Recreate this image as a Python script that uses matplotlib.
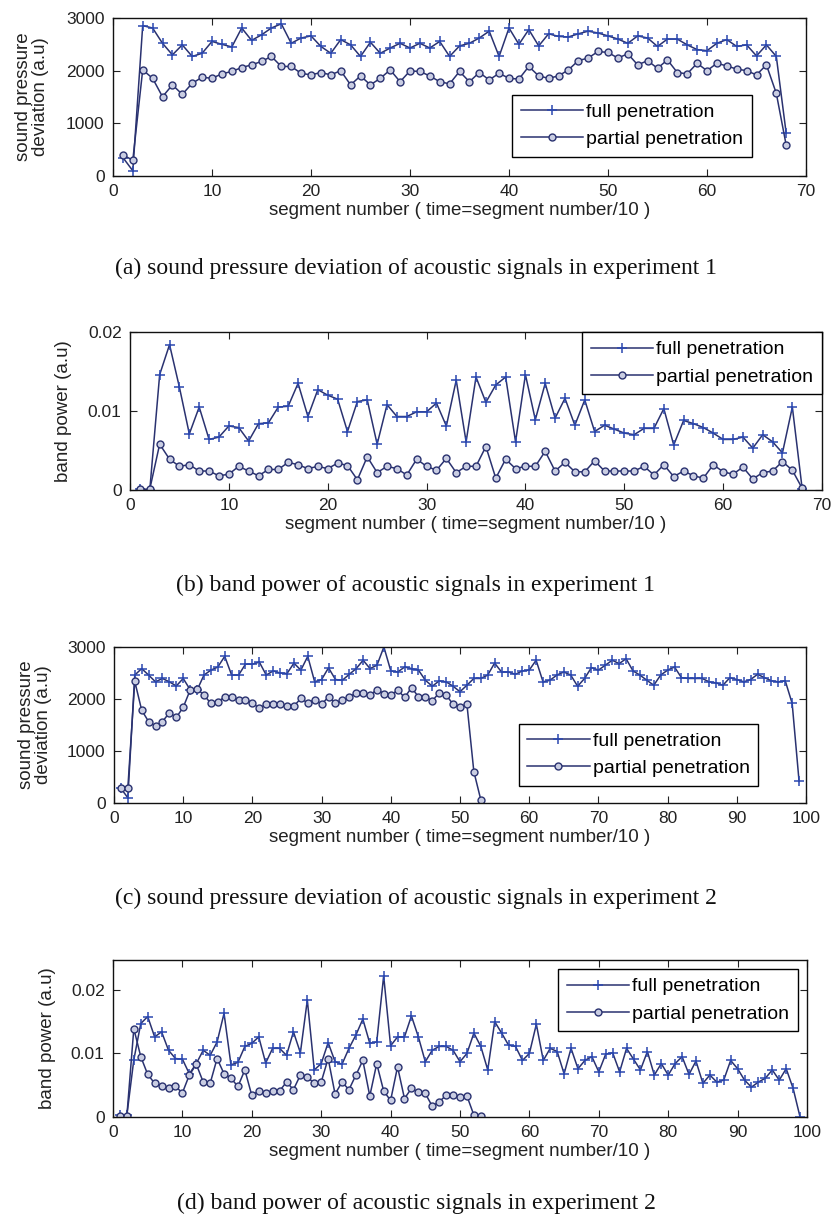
import numpy as np
import matplotlib
matplotlib.use("Agg")
import matplotlib.pyplot as plt
from matplotlib.ticker import FuncFormatter

plt.rcParams['font.family'] = ['Liberation Sans', 'DejaVu Sans']

# ---- data ----
# experiment 1, segments 1..68
full_a = [350, 100, 2855, 2810, 2520, 2300, 2490, 2270, 2330, 2555,
          2500, 2450, 2810, 2575, 2680, 2810, 2890, 2520, 2620, 2660,
          2460, 2330, 2590, 2490, 2270, 2540, 2330, 2430, 2520, 2430,
          2520, 2430, 2555, 2270, 2470, 2520, 2620, 2750, 2270, 2810,
          2500, 2780, 2470, 2700, 2650, 2640, 2700, 2750, 2715, 2660,
          2600, 2520, 2660, 2620, 2460, 2600, 2600, 2490, 2400, 2380,
          2520, 2590, 2460, 2490, 2280, 2490, 2270, 810]
partial_a = [400, 300, 2015, 1855, 1505, 1730, 1550, 1760, 1875, 1855,
             1940, 1985, 2060, 2110, 2175, 2270, 2080, 2080, 1950, 1920,
             1965, 1920, 2000, 1730, 1900, 1730, 1855, 2015, 1790, 1995,
             1985, 1900, 1790, 1750, 1985, 1790, 1965, 1825, 1950, 1855,
             1840, 2080, 1900, 1855, 1900, 2015, 2190, 2240, 2365, 2345,
             2240, 2320, 2110, 2190, 2045, 2205, 1965, 1940, 2140, 2000,
             2140, 2090, 2030, 2000, 1920, 2110, 1570, 585]

full_b = [0.0001, 0.0, 0.0146, 0.0184, 0.0130, 0.0071, 0.0105, 0.0064, 0.0067, 0.0081,
          0.0079, 0.0062, 0.0084, 0.0085, 0.0105, 0.0106, 0.0135, 0.0093, 0.0127, 0.0120,
          0.0115, 0.0074, 0.0112, 0.0114, 0.0058, 0.0108, 0.0093, 0.0093, 0.0099, 0.0099,
          0.0110, 0.0081, 0.0139, 0.0061, 0.0143, 0.0111, 0.0133, 0.0143, 0.0061, 0.0146,
          0.0089, 0.0135, 0.0091, 0.0116, 0.0082, 0.0114, 0.0074, 0.0082, 0.0077, 0.0072,
          0.0070, 0.0078, 0.0078, 0.0103, 0.0057, 0.0088, 0.0084, 0.0079, 0.0072, 0.0064,
          0.0064, 0.0067, 0.0053, 0.0070, 0.0061, 0.0047, 0.0105, 0.0001]
partial_b = [0.0001, 0.0001, 0.0058, 0.0039, 0.0030, 0.0032, 0.0024, 0.0024, 0.0018, 0.0020,
             0.0030, 0.0024, 0.0018, 0.0026, 0.0026, 0.0035, 0.0032, 0.0027, 0.0030, 0.0027,
             0.0034, 0.0031, 0.0013, 0.0042, 0.0022, 0.0030, 0.0027, 0.0019, 0.0039, 0.0030,
             0.0025, 0.0040, 0.0022, 0.0030, 0.0030, 0.0055, 0.0015, 0.0039, 0.0027, 0.0030,
             0.0030, 0.0049, 0.0024, 0.0035, 0.0023, 0.0023, 0.0037, 0.0024, 0.0024, 0.0024,
             0.0024, 0.0030, 0.0019, 0.0032, 0.0017, 0.0024, 0.0018, 0.0015, 0.0032, 0.0023,
             0.0020, 0.0029, 0.0014, 0.0022, 0.0024, 0.0036, 0.0025, 0.0002]

# experiment 2, full 1..99, partial 1..53
full_c = [280, 100, 2460, 2585, 2460, 2330, 2395, 2330, 2250, 2395,
          2180, 2170, 2460, 2555, 2615, 2820, 2460, 2460, 2670, 2670,
          2710, 2460, 2540, 2500, 2490, 2690, 2555, 2820, 2330, 2375,
          2600, 2375, 2360, 2475, 2585, 2745, 2585, 2650, 3000, 2540,
          2520, 2615, 2585, 2555, 2360, 2245, 2350, 2330, 2245, 2140,
          2265, 2395, 2395, 2460, 2690, 2520, 2520, 2475, 2540, 2555,
          2745, 2330, 2360, 2460, 2520, 2460, 2245, 2395, 2605, 2555,
          2650, 2745, 2680, 2775, 2540, 2460, 2360, 2265, 2460, 2555,
          2615, 2410, 2395, 2395, 2395, 2330, 2310, 2265, 2410, 2375,
          2330, 2375, 2475, 2410, 2350, 2330, 2350, 1915, 415]
partial_c = [290, 290, 2340, 1785, 1565, 1480, 1565, 1735, 1645, 1840,
             2170, 2200, 2075, 1915, 1945, 2040, 2030, 1990, 1990, 1925,
             1820, 1900, 1900, 1900, 1865, 1865, 2010, 1925, 1990, 1900,
             2040, 1925, 1980, 2030, 2120, 2120, 2075, 2180, 2105, 2075,
             2170, 2030, 2220, 2040, 2040, 1965, 2120, 2075, 1900, 1850,
             1900, 605, 65]

full_d = [0.0003, 0.0003, 0.0090, 0.0147, 0.0158, 0.0126, 0.0134, 0.0105, 0.0092, 0.0091,
          0.0068, 0.0084, 0.0105, 0.0097, 0.0118, 0.0163, 0.0082, 0.0086, 0.0111, 0.0116,
          0.0126, 0.0085, 0.0108, 0.0108, 0.0097, 0.0134, 0.0101, 0.0184, 0.0074, 0.0084,
          0.0117, 0.0087, 0.0083, 0.0108, 0.0129, 0.0154, 0.0116, 0.0118, 0.0222, 0.0112,
          0.0126, 0.0126, 0.0159, 0.0126, 0.0087, 0.0105, 0.0111, 0.0111, 0.0105, 0.0087,
          0.0100, 0.0132, 0.0111, 0.0074, 0.0150, 0.0132, 0.0113, 0.0111, 0.0089, 0.0100,
          0.0146, 0.0089, 0.0108, 0.0103, 0.0068, 0.0108, 0.0076, 0.0089, 0.0095, 0.0071,
          0.0099, 0.0101, 0.0071, 0.0108, 0.0091, 0.0074, 0.0103, 0.0066, 0.0084, 0.0066,
          0.0084, 0.0095, 0.0067, 0.0088, 0.0053, 0.0066, 0.0055, 0.0058, 0.0089, 0.0076,
          0.0058, 0.0047, 0.0055, 0.0061, 0.0074, 0.0058, 0.0076, 0.0045, 0.0]
partial_d = [0.0002, 0.0002, 0.0139, 0.0095, 0.0067, 0.0053, 0.0048, 0.0046, 0.0048, 0.0038,
             0.0066, 0.0083, 0.0055, 0.0053, 0.0092, 0.0068, 0.0061, 0.0048, 0.0074, 0.0034,
             0.0041, 0.0038, 0.0041, 0.0041, 0.0055, 0.0043, 0.0066, 0.0063, 0.0053, 0.0055,
             0.0092, 0.0036, 0.0055, 0.0043, 0.0066, 0.0089, 0.0033, 0.0084, 0.0041, 0.0026,
             0.0079, 0.0029, 0.0045, 0.0039, 0.0037, 0.0017, 0.0024, 0.0034, 0.0034, 0.0032,
             0.0033, 0.0003, 0.0001]

captions = ["(a) sound pressure deviation of acoustic signals in experiment 1",
            "(b) band power of acoustic signals in experiment 1",
            "(c) sound pressure deviation of acoustic signals in experiment 2",
            "(d) band power of acoustic signals in experiment 2"]
xlab = "segment number ( time=segment number/10 )"
ylab_sp = "sound pressure\ndeviation (a.u)"
ylab_bp = "band power (a.u)"

line_col = '#2a3270'
mark_col = '#2b48b0'

W, H = 832, 1227
fig = plt.figure(figsize=(W / 100, H / 100), dpi=100)


def make_ax(x0, x1, ytop, ybot):
    return fig.add_axes([x0 / W, 1 - ybot / H, (x1 - x0) / W, (ybot - ytop) / H])


def panel(ax, full, partial, xmax, ymax, yticks, ylabel, ylab_x, leg_kw):
    xf = np.arange(1, len(full) + 1)
    xp = np.arange(1, len(partial) + 1)
    ax.plot(xf, full, color=line_col, lw=1.1, marker='+', ms=6.5, mew=1.1,
            mec=mark_col, label='full penetration')
    ax.plot(xp, partial, color=line_col, lw=1.1, marker='o', ms=5, mew=1.0,
            mec=line_col, mfc='#c9cde2', label='partial penetration')
    ax.set_xlim(0, xmax)
    ax.set_ylim(0, ymax)
    ax.set_xticks(np.arange(0, xmax + 1, 10))
    ax.set_yticks(yticks)
    ax.yaxis.set_major_formatter(FuncFormatter(lambda v, p: '%g' % v))
    ax.tick_params(direction='in', top=True, right=True, labelsize=12.5,
                   length=5, width=0.8, colors='#222222', pad=6)
    for s in ax.spines.values():
        s.set_linewidth(1.0)
        s.set_color('#111111')
    ax.set_xlabel(xlab, fontsize=13.5, color='#222222', labelpad=2)
    ax.set_ylabel(ylabel, fontsize=13.5, color='#222222', linespacing=1.0)
    ax.yaxis.set_label_coords(ylab_x, 0.5)
    leg = ax.legend(fontsize=14, handlelength=3.2, handletextpad=0.15,
                    borderpad=0.45, labelspacing=0.5, fancybox=False,
                    framealpha=1, edgecolor='black', **leg_kw)
    leg.get_frame().set_linewidth(1.0)


ax_a = make_ax(113, 806, 18, 176)
panel(ax_a, full_a, partial_a, 70, 3000, [0, 1000, 2000, 3000], ylab_sp, -0.093,
      dict(loc='lower right', bbox_to_anchor=(0.922, 0.12), borderaxespad=0))
ax_b = make_ax(130, 822, 332, 490)
panel(ax_b, full_b, partial_b, 70, 0.02, [0, 0.01, 0.02], ylab_bp, -0.084,
      dict(loc='upper right', bbox_to_anchor=(1, 1), borderaxespad=0))
ax_c = make_ax(114, 806, 647, 803)
panel(ax_c, full_c, partial_c, 100, 3000, [0, 1000, 2000, 3000], ylab_sp, -0.09,
      dict(loc='lower right', bbox_to_anchor=(0.931, 0.109), borderaxespad=0))
ax_d = make_ax(113, 807, 960, 1117)
panel(ax_d, full_d, partial_d, 100, 0.0247, [0, 0.01, 0.02], ylab_bp, -0.082,
      dict(loc='upper right', bbox_to_anchor=(0.987, 0.943), borderaxespad=0))

cap_y = [268, 585, 898, 1203]
for c, y in zip(captions, cap_y):
    fig.text(0.5, 1 - y / H, c, ha='center', va='center',
             family=['Liberation Serif', 'DejaVu Serif'], fontsize=17, color='#111111')

fig.savefig('out.png', dpi=100, facecolor='white')
